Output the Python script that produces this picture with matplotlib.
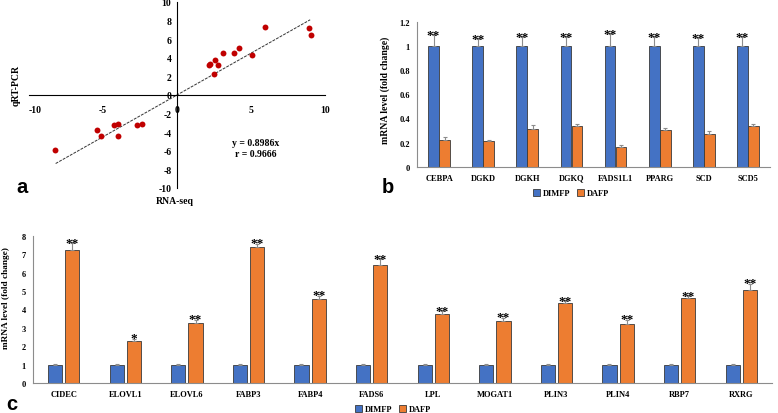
import numpy as np
import matplotlib
matplotlib.use("Agg")
import matplotlib.pyplot as plt
from matplotlib.patches import Patch

SERIF = "Liberation Serif"
SANS = "Liberation Sans"

# ---------------- data ----------------
rna_seq = [-8.25, -5.43, -5.12, -4.24, -3.97, -3.97, -2.70, -2.37, 2.19, 2.21,
           2.59, 2.80, 2.50, 3.13, 3.86, 4.17, 5.05, 5.98, 8.90, 9.04]
qrt_pcr = [-5.96, -3.80, -4.42, -3.20, -3.09, -4.45, -3.27, -3.09, 3.23, 3.38,
           3.73, 3.23, 2.26, 4.56, 4.56, 5.03, 4.31, 7.36, 7.22, 6.43]
slope = 0.8986
r_value = 0.9666
trend_x = [-8.2, 9.0]

genes_b = ["CEBPA", "DGKD", "DGKH", "DGKQ", "FADS1L1", "PPARG", "SCD", "SCD5"]
dimfp_b = [1, 1, 1, 1, 1, 1, 1, 1]
dimfp_b_err = [0.09, 0.057, 0.076, 0.076, 0.095, 0.076, 0.065, 0.076]
dafp_b = [0.223, 0.212, 0.312, 0.334, 0.166, 0.306, 0.273, 0.334]
dafp_b_err = [0.025, 0.011, 0.033, 0.019, 0.011, 0.011, 0.022, 0.019]
sig_b = ["**"] * 8

genes_c = ["CIDEC", "ELOVL1", "ELOVL6", "FABP3", "FABP4", "FADS6", "LPL",
           "MOGAT1", "PLIN3", "PLIN4", "RBP7", "RXRG"]
dimfp_c = [1] * 12
dimfp_c_err = [0.05] * 12
dafp_c = [7.26, 2.30, 3.27, 7.39, 4.59, 6.44, 3.76, 3.38, 4.36, 3.23, 4.61, 5.06]
dafp_c_err = [0.36, 0.11, 0.18, 0.20, 0.16, 0.29, 0.16, 0.18, 0.10, 0.22, 0.13, 0.35]
sig_c = ["**", "*", "**", "**", "**", "**", "**", "**", "**", "**", "**", "**"]

series_names = ["DIMFP", "DAFP"]
BLUE = "#4472C4"
ORANGE = "#ED7D31"

fig = plt.figure(figsize=(7.78, 4.14), dpi=100)

# ---------------- panel a ----------------
axa = fig.add_axes([0.0373, 0.5435, 0.3804, 0.4493])
axa.scatter(rna_seq, qrt_pcr, s=18, color="#C00000", zorder=3, linewidths=0)
tx = np.array(trend_x)
axa.plot(tx, slope * tx, color="#333333", lw=0.7, ls=(0, (3, 1.2)), zorder=2)
axa.set_xlim(-10, 10)
axa.set_ylim(-10, 10)
for s in ["left", "bottom"]:
    axa.spines[s].set_position(("data", 0))
    axa.spines[s].set_linewidth(0.8)
for s in ["top", "right"]:
    axa.spines[s].set_visible(False)
axa.set_xticks([-10, -5, 0, 5, 10])
axa.set_xticklabels(["-10", "-5", "0", "5", "10"])
axa.set_yticks(range(-10, 11, 2))
axa.set_yticklabels([str(v) for v in range(-10, 11, 2)])
axa.tick_params(axis="both", length=0, labelsize=7)
axa.tick_params(axis="x", pad=7)
axa.tick_params(axis="y", pad=4)
for lab in axa.get_xticklabels() + axa.get_yticklabels():
    lab.set_fontfamily(SERIF)
    lab.set_fontweight("bold")
axa.get_xticklabels()[0].set_horizontalalignment("left")
axa.text(5.3, -5.1, f"y = {slope}x", ha="center", va="center",
         fontsize=7, fontfamily=SERIF, fontweight="bold")
axa.text(5.3, -6.3, f"r = {r_value}", ha="center", va="center",
         fontsize=7, fontfamily=SERIF, fontweight="bold")
fig.text(175 / 778, 1 - 202 / 414, "RNA-seq", ha="center", va="center",
         fontsize=7, fontfamily=SERIF, fontweight="bold")
fig.text(16 / 778, 1 - 86 / 414, "qRT-PCR", ha="center", va="center",
         rotation=90, fontsize=7, fontfamily=SERIF, fontweight="bold")


def bar_panel(ax, genes, blue, blue_err, orange, orange_err, sig, width, off,
              ylim, yticks, ytick_labels, star_on):
    x = np.arange(len(genes))
    zeros = [0] * len(genes)
    ax.bar(x - off, blue, width, color=BLUE, edgecolor="#3a3a3a", lw=0.6,
           yerr=[zeros, blue_err], error_kw=dict(ecolor="#8c8c8c", elinewidth=0.8,
                                                 capsize=1.5, capthick=0.8),
           zorder=2)
    ax.bar(x + off, orange, width, color=ORANGE, edgecolor="#3a3a3a", lw=0.6,
           yerr=[zeros, orange_err], error_kw=dict(ecolor="#8c8c8c", elinewidth=0.8,
                                                   capsize=1.5, capthick=0.8),
           zorder=2)
    for i, s in enumerate(sig):
        if star_on == "blue":
            xx, top = x[i] - off, blue[i] + blue_err[i]
        else:
            xx, top = x[i] + off, orange[i] + orange_err[i]
        ax.annotate(s, xy=(xx, top), xytext=(0, -2), textcoords="offset points",
                    ha="center", va="baseline", fontsize=9.5,
                    fontfamily=SERIF, fontweight="bold")
    ax.set_xlim(-0.5, len(genes) - 0.5)
    ax.set_ylim(*ylim)
    ax.set_xticks(x)
    ax.set_xticklabels(genes)
    ax.set_yticks(yticks)
    ax.set_yticklabels(ytick_labels)
    ax.tick_params(axis="both", length=0, labelsize=6)
    ax.tick_params(axis="x", pad=5)
    ax.tick_params(axis="y", pad=5)
    for lab in ax.get_xticklabels() + ax.get_yticklabels():
        lab.set_fontfamily(SERIF)
        lab.set_fontweight("bold")
    for s in ["top", "right"]:
        ax.spines[s].set_visible(False)
    for s in ["left", "bottom"]:
        ax.spines[s].set_color("#8c8c8c")
        ax.spines[s].set_linewidth(0.8)


# ---------------- panel b ----------------
axb = fig.add_axes([0.536, 0.595, 0.4537, 0.350])
bar_panel(axb, genes_b, dimfp_b, dimfp_b_err, dafp_b, dafp_b_err, sig_b,
          0.245, 0.125, (0, 1.2), [0, 0.2, 0.4, 0.6, 0.8, 1.0, 1.2],
          ["0", "0.2", "0.4", "0.6", "0.8", "1", "1.2"], "blue")
fig.text(385 / 778, 1 - 90 / 414, "mRNA level (fold change)", ha="center",
         va="center", rotation=90, fontsize=7, fontfamily=SERIF, fontweight="bold")

# ---------------- panel c ----------------
axc = fig.add_axes([0.0424, 0.0725, 0.9499, 0.355])
bar_panel(axc, genes_c, dimfp_c, dimfp_c_err, dafp_c, dafp_c_err, sig_c,
          0.23, 0.14, (0, 8), list(range(0, 9)), [str(v) for v in range(0, 9)],
          "orange")
fig.text(6 / 778, 1 - 298 / 414, "mRNA level (fold change)", ha="center",
         va="center", rotation=90, fontsize=6.7, fontfamily=SERIF, fontweight="bold")

# legends
handles = [Patch(facecolor=BLUE, edgecolor="#3a3a3a", lw=0.6, label=series_names[0]),
           Patch(facecolor=ORANGE, edgecolor="#3a3a3a", lw=0.6, label=series_names[1])]
legprops = dict(family=SERIF, weight="bold", size=6)
fig.legend(handles=handles, loc="center", bbox_to_anchor=(571 / 778, 1 - 194 / 414),
           ncol=2, frameon=False, prop=legprops, handlelength=0.9, handleheight=0.9,
           handletextpad=0.3, columnspacing=0.8, borderpad=0)
fig.legend(handles=handles, loc="center", bbox_to_anchor=(393 / 778, 1 - 410 / 414),
           ncol=2, frameon=False, prop=legprops, handlelength=0.9, handleheight=0.9,
           handletextpad=0.3, columnspacing=0.8, borderpad=0)

# panel letters
letter = dict(fontsize=14.5, fontfamily=SANS, fontweight="bold", va="baseline", ha="center")
fig.text(22 / 778, 1 - 193 / 414, "a", **letter)
fig.text(388 / 778, 1 - 193 / 414, "b", **letter)
fig.text(12 / 778, 1 - 410 / 414, "c", **letter)

fig.savefig("out.png", dpi=100)
